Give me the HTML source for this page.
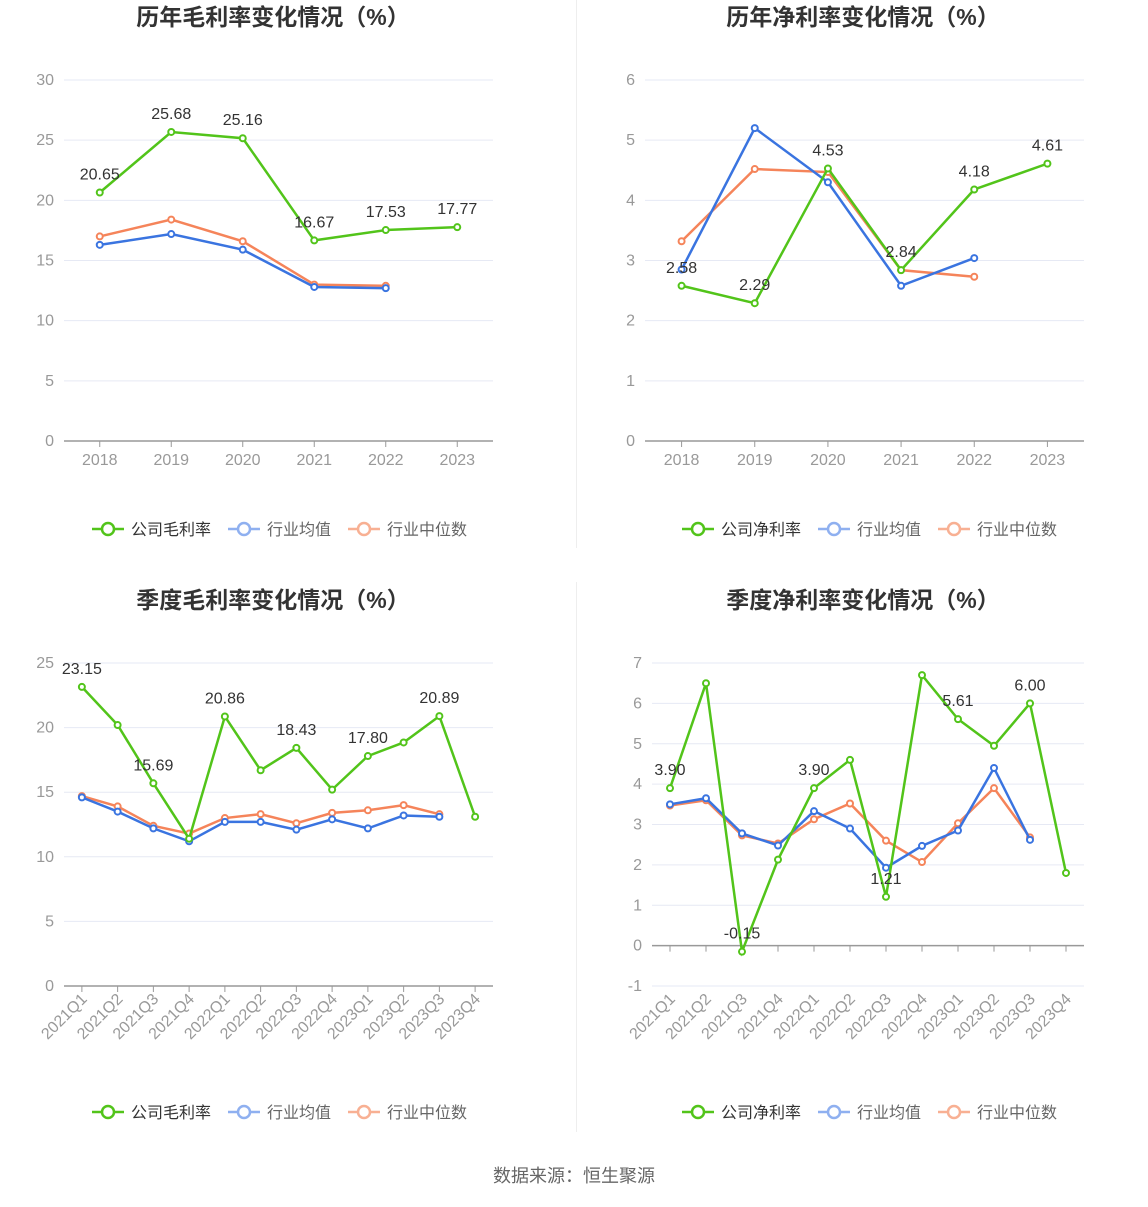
<!DOCTYPE html>
<html><head><meta charset="utf-8">
<style>
body{margin:0;background:#fff;font-family:"Liberation Sans","Noto Sans CJK SC",sans-serif;}
#root{position:relative;width:1148px;height:1202px;}
svg text{font-family:"Liberation Sans","Noto Sans CJK SC",sans-serif;}
</style></head>
<body>
<div id="root">
<svg id="svg" width="1148" height="1202" xmlns="http://www.w3.org/2000/svg">
<line x1="576.5" y1="0" x2="576.5" y2="548" stroke="#eee"/>
<line x1="576.5" y1="582" x2="576.5" y2="1132" stroke="#eee"/>
<text x="574" y="1182" font-size="18" fill="#666" text-anchor="middle">数据来源：恒生聚源</text>
</svg>
</div>
<script>
const yearCats = ["2018","2019","2020","2021","2022","2023"];
const quarterCats = ["2021Q1","2021Q2","2021Q3","2021Q4","2022Q1","2022Q2","2022Q3","2022Q4","2023Q1","2023Q2","2023Q3","2023Q4"];

const c1Company = [20.65,25.68,25.16,16.67,17.53,17.77];
const c1Avg = [16.3,17.2,15.9,12.8,12.7];
const c1Median = [17.0,18.4,16.6,13.0,12.9];
const c1Ticks = [0,5,10,15,20,25,30];

const c2Company = [2.58,2.29,4.53,2.84,4.18,4.61];
const c2Avg = [2.85,5.2,4.3,2.58,3.04];
const c2Median = [3.32,4.52,4.47,2.84,2.73];
const c2Ticks = [0,1,2,3,4,5,6];

const c3Company = [23.15,20.2,15.69,11.4,20.86,16.7,18.43,15.2,17.80,18.85,20.89,13.1];
const c3Avg = [14.6,13.5,12.2,11.2,12.7,12.7,12.1,12.9,12.2,13.2,13.1];
const c3Median = [14.7,13.9,12.4,11.8,13.0,13.3,12.6,13.4,13.6,14.0,13.3];
const c3Ticks = [0,5,10,15,20,25];

const c4Company = [3.90,6.50,-0.15,2.13,3.90,4.60,1.21,6.70,5.61,4.95,6.00,1.80];
const c4Avg = [3.50,3.65,2.78,2.48,3.33,2.90,1.93,2.47,2.85,4.40,2.62];
const c4Median = [3.47,3.60,2.73,2.53,3.13,3.52,2.60,2.07,3.03,3.90,2.68];
const c4Ticks = [-1,0,1,2,3,4,5,6,7];

const NS="http://www.w3.org/2000/svg";
const svg=document.getElementById('svg');
function mk(tag,attrs,parent){const e=document.createElementNS(NS,tag);for(const k in attrs)e.setAttribute(k,attrs[k]);(parent||svg).appendChild(e);return e;}

const GREEN="#52c41a",BLUE="#3a74e0",ORANGE="#f5845a";

function chart(cfg){
  const g=mk('g',{});
  
  
  const n=cfg.cats.length, band=(cfg.x1-cfg.x0)/n;
  const tmin=cfg.ticks[0], tmax=cfg.ticks[cfg.ticks.length-1];
  const X=i=>cfg.x0+band*(i+0.5);
  const Y=v=>cfg.yb+(v-tmin)/(tmax-tmin)*(cfg.yt-cfg.yb);
  const t=mk('text',{x:cfg.titleX,y:cfg.titleY,'font-size':23,'font-weight':'bold',fill:'#333','text-anchor':'middle'},g);
  t.textContent=cfg.title;
  
  
  cfg.ticks.forEach(v=>{
    const y=Y(v);
    const axis=(v===0);
    const l=mk('line',{x1:cfg.x0,x2:cfg.x1,y1:y,y2:y,stroke:axis?'#999':'#e6e9f4','stroke-width':axis?1.5:1},g);
    
    
    const tl=mk('text',{x:cfg.x0-10,y:y+5,'font-size':16,fill:'#999','text-anchor':'end'},g);
    tl.textContent=v;
    
    
  });
  const y0=Y(0);
  cfg.cats.forEach((c,i)=>{
    const tk=mk('line',{x1:X(i),x2:X(i),y1:y0,y2:y0+6,stroke:'#999'},g);
    
    
    let lb;
    if(cfg.rot){
      const ly=cfg.labelY;
      lb=mk('text',{x:X(i)+6,y:ly,'font-size':16,fill:'#999','text-anchor':'end',transform:`rotate(-45 ${X(i)+6} ${ly})`},g);
    } else {
      lb=mk('text',{x:X(i),y:cfg.labelY,'font-size':16,fill:'#999','text-anchor':'middle'},g);
    }
    lb.textContent=c;
    
    
  });
  const series=[[cfg.median,ORANGE,'industry-median-line'],[cfg.avg,BLUE,'industry-average-line'],[cfg.company,GREEN,'company-line']];
  series.forEach(([d,col,nm])=>{
    const p=mk('polyline',{points:d.map((v,i)=>X(i)+','+Y(v)).join(' '),fill:'none',stroke:col,'stroke-width':2.5},g);
    
    
    d.forEach((v,i)=>{
      const c=mk('circle',{cx:X(i),cy:Y(v),r:3,fill:'#fff',stroke:col,'stroke-width':2},g);
      
      
    });
  });
  cfg.company.forEach((v,i)=>{
    if(cfg.labelIdx.indexOf(i)<0)return;
    const tx=mk('text',{x:X(i),y:Y(v)-13,'font-size':16,fill:'#333','text-anchor':'middle'},g);
    tx.textContent=v.toFixed(2);
    
    
  });
  const legend=[[cfg.compName,GREEN,'#333'],['行业均值','#8fb0f0','#666'],['行业中位数','#f8b093','#666']];
  let lx=cfg.legendX;
  legend.forEach(([txt,col,tc])=>{
    const lg=mk('g',{},g);
    
    
    mk('line',{x1:lx,x2:lx+32,y1:cfg.legendY,y2:cfg.legendY,stroke:col,'stroke-width':2.5},lg);
    mk('circle',{cx:lx+16,cy:cfg.legendY,r:6,fill:'#fff',stroke:col,'stroke-width':2.5},lg);
    const tt=mk('text',{x:lx+39,y:cfg.legendY+6,'font-size':16,fill:tc},lg);
    tt.textContent=txt;
    lx+=39+txt.length*16+17;
  });
}

chart({name:'annual-gross-margin-chart',title:'历年毛利率变化情况（%）',titleX:273,titleY:25,x0:64,x1:493,yb:441,yt:80,ticks:c1Ticks,cats:yearCats,company:c1Company,avg:c1Avg,median:c1Median,labelIdx:[0,1,2,3,4,5],labelY:465,rot:false,legendY:529,legendX:92,compName:'公司毛利率'});
chart({name:'annual-net-margin-chart',title:'历年净利率变化情况（%）',titleX:863,titleY:25,x0:645,x1:1084,yb:441,yt:80,ticks:c2Ticks,cats:yearCats,company:c2Company,avg:c2Avg,median:c2Median,labelIdx:[0,1,2,3,4,5],labelY:465,rot:false,legendY:529,legendX:682,compName:'公司净利率'});
chart({name:'quarterly-gross-margin-chart',title:'季度毛利率变化情况（%）',titleX:273,titleY:608,x0:64,x1:493,yb:986,yt:663,ticks:c3Ticks,cats:quarterCats,company:c3Company,avg:c3Avg,median:c3Median,labelIdx:[0,2,4,6,8,10],labelY:1000,rot:true,legendY:1112,legendX:92,compName:'公司毛利率'});
chart({name:'quarterly-net-margin-chart',title:'季度净利率变化情况（%）',titleX:863,titleY:608,x0:652,x1:1084,yb:986,yt:663,ticks:c4Ticks,cats:quarterCats,company:c4Company,avg:c4Avg,median:c4Median,labelIdx:[0,2,4,6,8,10],labelY:1000,rot:true,legendY:1112,legendX:682,compName:'公司净利率'});
</script>
</body></html>
